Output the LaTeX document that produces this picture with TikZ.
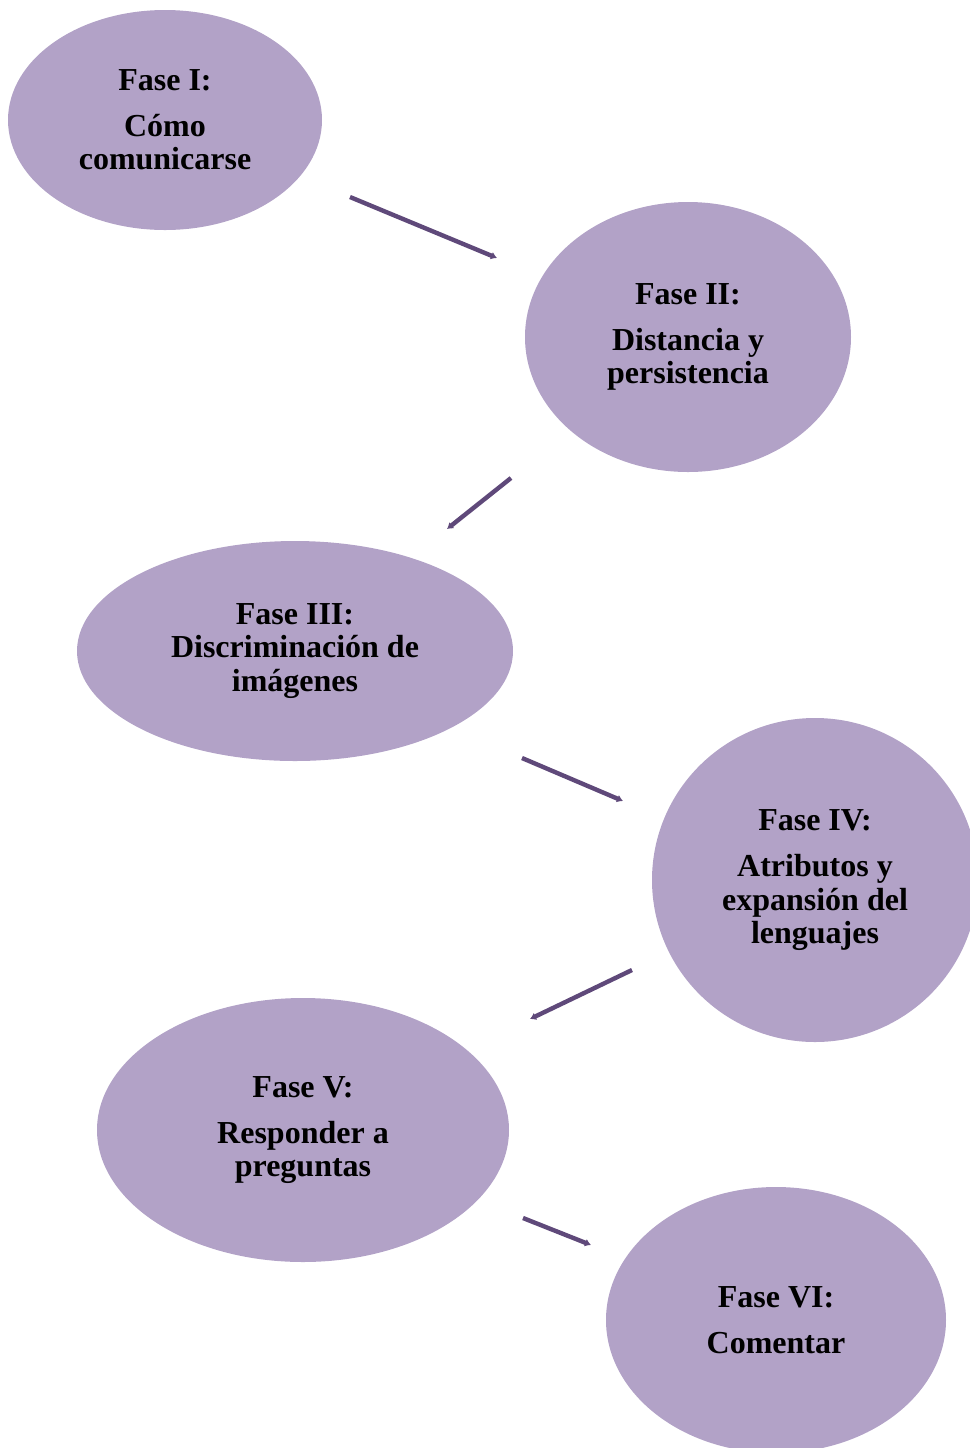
\documentclass[tikz,border=0pt]{standalone}
\usepackage{fontspec}
\setmainfont{Liberation Serif}
\usetikzlibrary{shapes.geometric,arrows.meta}
\definecolor{fasefill}{HTML}{B2A2C7}
\definecolor{faseline}{HTML}{5F497A}
\begin{document}
\begin{tikzpicture}[x=0.5pt,y=-0.5pt]

      \useasboundingbox (0,0) rectangle (970,1448);
      \clip (0,0) rectangle (970,1448);

      \begin{scope}[every node/.style={ellipse, fill=fasefill, inner sep=0pt, align=center,
          font=\fontsize{16}{16.6}\selectfont\bfseries}]
        \node[minimum width=157pt, minimum height=110pt] (1) at (165,120)  {Fase I:\\[6.5pt]Cómo\\comunicarse};
        \node[minimum width=163pt, minimum height=135pt] (2) at (688,337)  {Fase II:\\[6.5pt]Distancia y\\persistencia};
        \node[minimum width=218pt, minimum height=110pt] (3) at (295,651)  {Fase III:\\Discriminación de\\imágenes};
        \node[minimum width=163pt, minimum height=162pt] (4) at (815,880)  {Fase IV:\\[6.5pt]Atributos y\\expansión del\\lenguajes};
        \node[minimum width=206pt, minimum height=132pt] (5) at (303,1130) {Fase V:\\[6.5pt]Responder a\\preguntas};
        \node[minimum width=170pt, minimum height=133pt] (6) at (776,1320) {Fase VI:\\[6.5pt]Comentar};
      \end{scope}

      \coordinate (1s) at (350,197);  \coordinate (2e) at (497,258);
      \coordinate (2s) at (511,478);  \coordinate (3e) at (447,529);
      \coordinate (3s) at (522,758);  \coordinate (4e) at (623,801);
      \coordinate (4s) at (632,970);  \coordinate (5e) at (530,1019);
      \coordinate (5s) at (523,1218); \coordinate (6e) at (591,1245);

      \begin{scope}[every edge/.style={draw, faseline, line width=2.2pt, -{Latex[length=3pt,width=4pt]}}]
        \path (1s) edge (2e);
        \path (2s) edge (3e);
        \path (3s) edge (4e);
        \path (4s) edge (5e);
        \path (5s) edge (6e);
      \end{scope}

    \end{tikzpicture}
\end{document}
